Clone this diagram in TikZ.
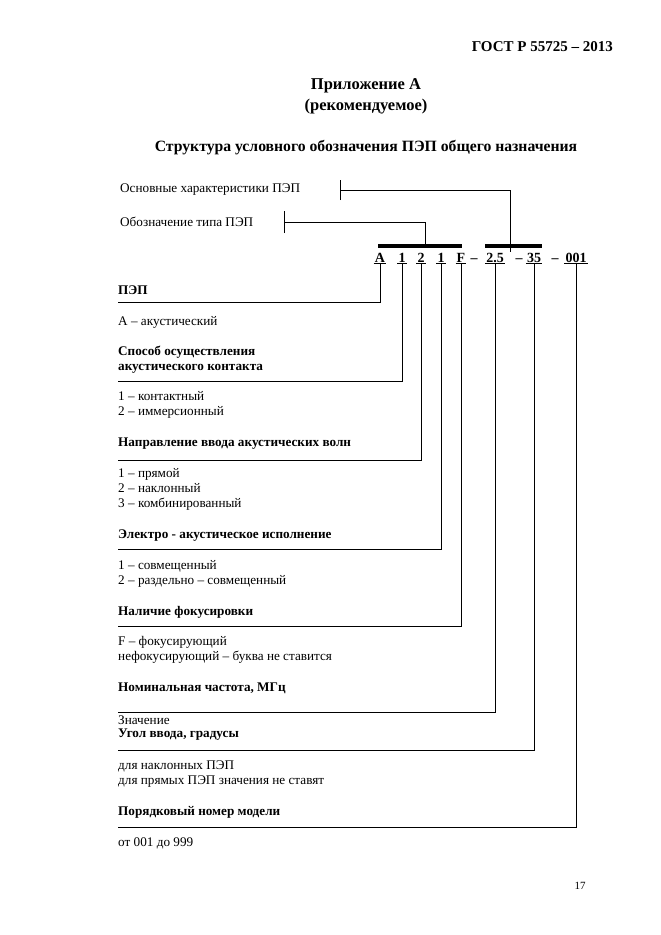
\documentclass[tikz,border=0pt]{standalone}
\usepackage{fontspec}
\setmainfont{Liberation Serif}
\usetikzlibrary{positioning}

\begin{document}
\begin{tikzpicture}[x=1pt, y=-1pt, font=\fontsize{13.2}{15}\selectfont,
  every node/.style={inner sep=0pt, anchor=west, align=left},
  bold/.style={font=\fontsize{13.2}{15}\selectfont\bfseries},
  title/.style={font=\fontsize{15.7}{18}\selectfont\bfseries, anchor=center},
  code/.style={font=\fontsize{14}{16}\selectfont\bfseries, anchor=base, inner sep=1pt},
  lead/.style={line width=0.8pt},
  bar/.style={line width=3.5pt}]
  \useasboundingbox (0,0) rectangle (661,935);

  % page heading
  \node[font=\fontsize{15}{18}\selectfont\bfseries, anchor=east] (gost) at (613,47) {ГОСТ Р 55725 – 2013};
  \node[title, font=\fontsize{16.5}{19}\selectfont\bfseries] (app) at (366,86) {Приложение А};
  \node[title, font=\fontsize{16.5}{19}\selectfont\bfseries] (rec) at (366,107) {(рекомендуемое)};
  \node[title] (struct) at (366,148) {Структура условного обозначения ПЭП общего назначения};

  % designation
  \node[code] (cA) at (380,262) {A};
  \node[code] (c1) at (402,262) {1};
  \node[code] (c2) at (421,262) {2};
  \node[code] (c3) at (441,262) {1};
  \node[code] (cF) at (461,262) {F};
  \node[code] (d1) at (474,262) {–};
  \node[code] (cFreq) at (495,262) {2.5};
  \node[code] (d2) at (519,262) {–};
  \node[code] (cAng) at (534,262) {35};
  \node[code] (d3) at (555,262) {–};
  \node[code] (cNum) at (576,262) {001};

  \draw[bar] (378,246) -- (462,246);
  \draw[bar] (485,246) -- (542,246);

  % upper brackets
  \node (lMain) at (120,190) {Основные характеристики ПЭП};
  \node (lType) at (120,222) {Обозначение типа ПЭП};
  \coordinate (tMain) at (340,190);
  \coordinate (tType) at (284,222);
  \draw[lead] ([yshift=-10pt]tMain) -- ([yshift=10pt]tMain);
  \draw[lead] ([yshift=-11pt]tType) -- ([yshift=11pt]tType);
  \draw[lead] (tMain) -| (510,252);
  \draw[lead] (tType) -| (425,246);

  % left column
  \node[bold] (hA) at (118,290) {ПЭП};
  \node (vA) at (118,322) {А – акустический};
  \node[bold] (h1) at (118,360) {Способ осуществления\\акустического контакта};
  \node (v1) at (118,405) {1 – контактный\\2 – иммерсионный};
  \node[bold] (h2) at (118,444) {Направление ввода акустических волн};
  \node (v2) at (118,489) {1 – прямой\\2 – наклонный\\3 – комбинированный};
  \node[bold] (h3) at (118,536) {Электро - акустическое исполнение};
  \node (v3) at (118,574) {1 – совмещенный\\2 – раздельно – совмещенный};
  \node[bold] (hF) at (118,612) {Наличие фокусировки};
  \node (vF) at (118,650) {F – фокусирующий\\нефокусирующий – буква не ставится};
  \node[bold] (hFreq) at (118,688) {Номинальная частота, МГц};
  \node (vFreq) at (118,720) {Значение};
  \node[bold] (hAng) at (118,735) {Угол ввода, градусы};
  \node (vAng) at (118,774) {для наклонных ПЭП\\для прямых ПЭП значения не ставят};
  \node[bold] (hNum) at (118,812) {Порядковый номер модели};
  \node (vNum) at (118,843) {от 001 до 999};

  \coordinate (eA) at (118,302);
  \coordinate (e1) at (118,381);
  \coordinate (e2) at (118,460);
  \coordinate (e3) at (118,549);
  \coordinate (eF) at (118,626);
  \coordinate (eFreq) at (118,712);
  \coordinate (eAng) at (118,750);
  \coordinate (eNum) at (118,827);

  % underlines and leaders
  \foreach \c/\e in {cA/eA, c1/e1, c2/e2, c3/e3, cF/eF, cFreq/eFreq, cAng/eAng, cNum/eNum} {
    \draw[line width=1.2pt] (\c.south west) -- (\c.south east);
    \draw[lead] (\c.south) |- (\e);
  }

  \node[font=\fontsize{11}{13}\selectfont, anchor=center] (page) at (580,886) {17};
\end{tikzpicture}
\end{document}
